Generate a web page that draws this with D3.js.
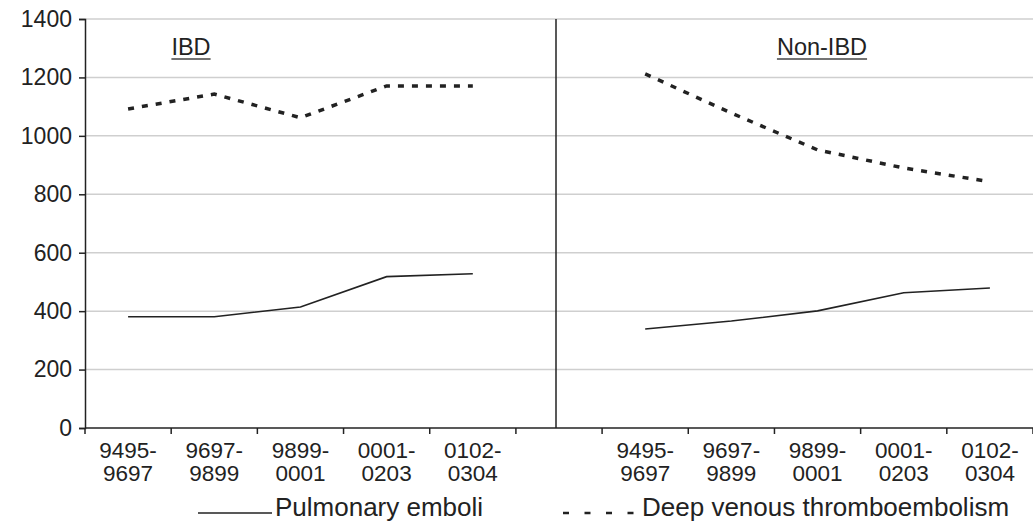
<!DOCTYPE html>
<html>
<head>
<meta charset="utf-8">
<script src="https://cdn.jsdelivr.net/npm/d3@7"></script>
<style>
  body { margin: 0; background: #fff; }
  text { font-family: "Liberation Sans", Arial, sans-serif; fill: #222; }
</style>
</head>
<body>
<div id="chart"></div>
<script>
  // periods on the x axis (same for both panels)
  const periods = ['9495-9697', '9697-9899', '9899-0001', '0001-0203', '0102-0304'];
  const groups = ['IBD', 'Non-IBD'];
  const yTicks = [0, 200, 400, 600, 800, 1000, 1200, 1400];

  const ibdPE = [381, 381, 414, 518, 528];
  const ibdDVT = [1092, 1143, 1062, 1171, 1171];
  const nonPE = [339, 366, 401, 463, 479];
  const nonDVT = [1212, 1078, 952, 890, 843];

  const W = 1033, H = 523;
  const margin = { left: 85, right: 0, top: 19, bottom: 95 };

  // slot keys: 5 IBD periods, one gap, 5 non-IBD periods
  const slots = periods.map(p => groups[0] + '|' + p)
    .concat(['gap'])
    .concat(periods.map(p => groups[1] + '|' + p));

  const x = d3.scaleBand().domain(slots).range([margin.left, W - margin.right]).padding(0);
  const y = d3.scaleLinear().domain([0, 1400]).range([H - margin.bottom, margin.top]);

  const svg = d3.select('#chart').append('svg')
    .attr('width', W).attr('height', H);

  // gridlines
  svg.selectAll('line.grid')
    .data(yTicks.filter(d => d > 0))
    .enter().append('line')
    .attr('x1', margin.left).attr('x2', W)
    .attr('y1', d => y(d)).attr('y2', d => y(d))
    .attr('stroke', '#cfcfcf').attr('stroke-width', 1.5);

  // y axis
  const yAxis = svg.append('g')
    .attr('transform', `translate(${margin.left},0)`)
    .call(d3.axisLeft(y).tickValues(yTicks).tickFormat(d3.format('d')).tickSize(6).tickPadding(7));
  yAxis.select('.domain').attr('stroke', '#222').attr('stroke-width', 1.5);
  yAxis.selectAll('.tick line').attr('stroke', '#222').attr('stroke-width', 1.5);
  yAxis.selectAll('.tick text').attr('font-size', 23).attr('fill', '#222')
    .attr('font-family', '"Liberation Sans", Arial, sans-serif');

  // x axis line
  svg.append('line')
    .attr('x1', margin.left).attr('x2', W)
    .attr('y1', y(0)).attr('y2', y(0))
    .attr('stroke', '#222').attr('stroke-width', 1.5);

  // ticks at slot boundaries
  const bounds = slots.map(s => x(s)).concat([x(slots[slots.length - 1]) + x.bandwidth()]);
  svg.selectAll('line.xtick')
    .data(bounds)
    .enter().append('line')
    .attr('x1', d => d).attr('x2', d => d)
    .attr('y1', y(0)).attr('y2', y(0) + 6)
    .attr('stroke', '#222').attr('stroke-width', 1.5);

  // x labels (two lines)
  const labelSlots = slots.filter(s => s !== 'gap');
  const lab = svg.selectAll('text.xlab')
    .data(labelSlots)
    .enter().append('text')
    .attr('class', 'xlab')
    .attr('text-anchor', 'middle')
    .attr('font-size', 22.5);
  lab.append('tspan')
    .attr('x', d => x(d) + x.bandwidth() / 2)
    .attr('y', y(0) + 30)
    .text(d => d.split('|')[1].split('-')[0] + '-');
  lab.append('tspan')
    .attr('x', d => x(d) + x.bandwidth() / 2)
    .attr('y', y(0) + 53)
    .text(d => d.split('|')[1].split('-')[1]);

  // divider between panels
  svg.append('line')
    .attr('x1', x('gap') + x.bandwidth() / 2 - 3).attr('x2', x('gap') + x.bandwidth() / 2 - 3)
    .attr('y1', y(1400)).attr('y2', y(0))
    .attr('stroke', '#222').attr('stroke-width', 1.5);

  const line = d3.line()
    .x(d => x(d.key) + x.bandwidth() / 2)
    .y(d => y(d.v));

  const series = [
    { g: groups[0], vals: ibdPE, dash: null },
    { g: groups[0], vals: ibdDVT, dash: '6,8' },
    { g: groups[1], vals: nonPE, dash: null },
    { g: groups[1], vals: nonDVT, dash: '6,8' }
  ];

  series.forEach(s => {
    const pts = periods.map((p, i) => ({ key: s.g + '|' + p, v: s.vals[i] }));
    svg.append('path')
      .datum(pts)
      .attr('d', line)
      .attr('fill', 'none')
      .attr('stroke', '#222')
      .attr('stroke-width', s.dash ? 3.5 : 1.6)
      .attr('stroke-dasharray', s.dash);
  });

  // panel titles, underlined
  const titlePos = [
    { g: groups[0], cx: 191 },
    { g: groups[1], cx: 822 }
  ];
  titlePos.forEach(t => {
    const tx = svg.append('text')
      .attr('x', t.cx).attr('y', 55)
      .attr('text-anchor', 'middle')
      .attr('font-size', 23.5)
      .text(t.g);
    const bb = tx.node().getBBox();
    svg.append('line')
      .attr('x1', bb.x).attr('x2', bb.x + bb.width)
      .attr('y1', 59).attr('y2', 59)
      .attr('stroke', '#444').attr('stroke-width', 1.5);
  });

  // legend
  const leg = svg.append('g');
  leg.append('line')
    .attr('x1', 198).attr('x2', 272).attr('y1', 513).attr('y2', 513)
    .attr('stroke', '#222').attr('stroke-width', 1.5);
  leg.append('text').attr('x', 275).attr('y', 516).attr('font-size', 26).text('Pulmonary emboli');
  leg.append('line')
    .attr('x1', 563).attr('x2', 640).attr('y1', 513).attr('y2', 513)
    .attr('stroke', '#222').attr('stroke-width', 2.5)
    .attr('stroke-dasharray', '6,15.5');
  leg.append('text').attr('x', 642).attr('y', 516).attr('font-size', 26).text('Deep venous thromboembolism');
</script>
</body>
</html>
